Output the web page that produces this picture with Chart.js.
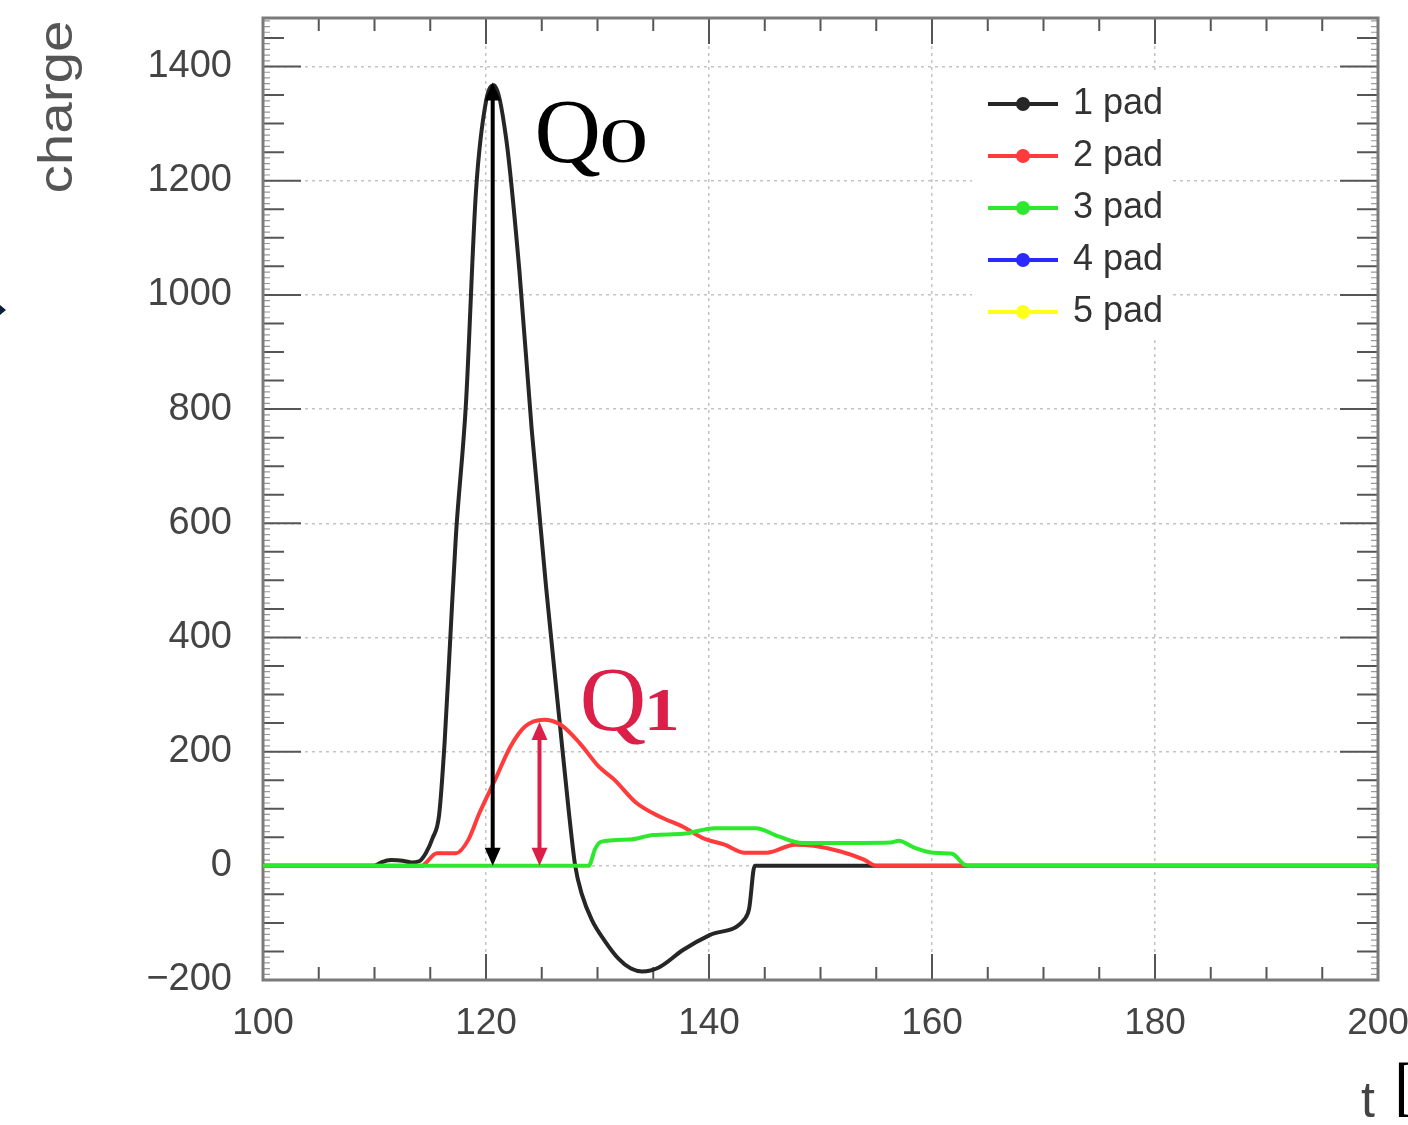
<!DOCTYPE html>
<html>
<head>
<meta charset="utf-8">
<script src="https://cdn.jsdelivr.net/npm/chart.js@4.4.1/dist/chart.umd.min.js"></script>
<style>
  html, body { margin: 0; padding: 0; background: #fff; }
  #wrap { width: 1408px; height: 1125px; position: relative; }
</style>
</head>
<body>
<div id="wrap"><canvas id="chart"></canvas></div>
<script>
// time axis ticks
const xTickValues = [100, 120, 140, 160, 180, 200];
const xTickLabels = ['100', '120', '140', '160', '180', '200'];
const yTickValues = [-200, 0, 200, 400, 600, 800, 1000, 1200, 1400];
const yTickLabels = ['\u2212200', '0', '200', '400', '600', '800', '1000', '1200', '1400'];

const seriesNames = ['1 pad', '2 pad', '3 pad', '4 pad', '5 pad'];
const seriesColors = ['#262626', '#ff3b3b', '#2ee82e', '#2a2aff', '#ffff1a'];

// 1 pad
const t1 = [100, 110, 110.6, 111.5, 112.5, 113.3, 114, 114.6, 115.2, 115.8, 116.3, 116.8, 117.3, 118.2, 119.1, 120.0, 120.7,
  121.8, 123.0, 124.1, 125.4, 126.6, 127.4, 128.0, 128.6, 129.5, 130.6, 131.9, 133.0, 134.0, 135.5, 137.7, 140.1,
  143.2, 143.6, 144.1, 155, 200];
const q1 = [0, 0, 6, 10, 9, 6, 8, 22, 48, 90, 220, 400, 578, 809, 1181, 1339, 1367,
  1275, 1041, 764, 486, 253, 100, 0, -50, -95, -130, -163, -180, -185, -178, -147, -121,
  -93, -75, 0, 0, 0];

// 2 pad
const t2 = [100, 114.3, 114.6, 115.6, 117.3, 118.4, 119.4, 120.8, 122.2, 123.5, 125.2, 126.7, 128.4, 130.1, 131.5, 133.5,
  135.6, 137.7, 139.4, 141.4, 143.2, 145.2, 147.7, 149.4, 151.8, 153.9, 155, 200];
const q2 = [0, 0, 5, 22, 22, 45, 92, 150, 209, 244, 256, 247, 215, 174, 151, 110,
  86, 68, 49, 37, 23, 23, 37, 35, 25, 11, 0, 0];

// 3 pad
const t3 = [100, 129.2, 129.8, 130.3, 132.9, 135, 137.7, 140.5, 144.2, 146.3, 148.4, 150.1, 156.3, 157, 158.4, 160.1,
  161.8, 162.9, 163.3, 200];
const q3 = [0, 0, 30, 42, 46, 54, 56, 66, 66, 51, 40, 40, 41, 44, 32, 23,
  21, 2, 0, 0];

// 4 pad, 5 pad: nothing drawn
const t4 = [];
const q4 = [];
const t5 = [];
const q5 = [];

// Q0 / Q1 markers (t, charge)
const q0Arrow = { t: 120.6, from: 0, to: 1372 };
const q1Arrow = { t: 124.8, from: 0, to: 252 };

const pts = (ts, qs) => ts.map((t, i) => ({ x: t, y: qs[i] }));

const frame = {
  id: 'frame',
  beforeDatasetsDraw(chart) {
    const { ctx, chartArea: a, scales: { x, y } } = chart;
    ctx.save();
    ctx.strokeStyle = '#555';
    ctx.lineWidth = 2;
    ctx.beginPath();
    for (let v = 100; v <= 200; v += 5) {
      const px = x.getPixelForValue(v);
      const len = v % 20 === 0 ? 26 : 13;
      ctx.moveTo(px, a.bottom); ctx.lineTo(px, a.bottom - len);
      ctx.moveTo(px, a.top); ctx.lineTo(px, a.top + len);
    }
    for (let v = -200; v <= 1480; v += 50) {
      const py = y.getPixelForValue(v);
      const len = v % 200 === 0 ? 38 : 21;
      ctx.moveTo(a.left, py); ctx.lineTo(a.left + len, py);
      ctx.moveTo(a.right, py); ctx.lineTo(a.right - len, py);
    }
    ctx.stroke();
    ctx.strokeStyle = '#999';
    ctx.lineWidth = 1.2;
    ctx.beginPath();
    for (let v = -200; v <= 1480; v += 10) {
      if (v % 50 === 0) continue;
      const py = y.getPixelForValue(v);
      ctx.moveTo(a.left, py); ctx.lineTo(a.left + 7, py);
      ctx.moveTo(a.right, py); ctx.lineTo(a.right - 7, py);
    }
    ctx.stroke();
    ctx.strokeStyle = '#7a7a7a';
    ctx.lineWidth = 3;
    ctx.strokeRect(a.left, a.top, a.width, a.height);
    ctx.restore();
  }
};

function arrow(ctx, x, y0, y1, color) {
  const head = 18, half = 8;
  ctx.strokeStyle = color;
  ctx.fillStyle = color;
  ctx.lineWidth = 4;
  ctx.beginPath();
  ctx.moveTo(x, y0 - head + 2);
  ctx.lineTo(x, y1 + head - 2);
  ctx.stroke();
  ctx.beginPath();
  ctx.moveTo(x, y0); ctx.lineTo(x - half, y0 - head); ctx.lineTo(x + half, y0 - head); ctx.closePath();
  ctx.fill();
  ctx.beginPath();
  ctx.moveTo(x, y1); ctx.lineTo(x - half, y1 + head); ctx.lineTo(x + half, y1 + head); ctx.closePath();
  ctx.fill();
}

function qLabel(ctx, x, y, sub, color) {
  ctx.fillStyle = color;
  ctx.textBaseline = 'alphabetic';
  ctx.textAlign = 'left';
  ctx.font = '92px "Liberation Serif"';
  ctx.fillText('Q', x, y);
  const w = ctx.measureText('Q').width;
  ctx.save();
  ctx.translate(x + w - 2, y);
  ctx.scale(sub === '0' ? 1.55 : 1.15, 1);
  ctx.font = sub === '0' ? '64px "Liberation Serif"' : '600 62px "Liberation Serif"';
  ctx.fillText(sub, 0, 0);
  ctx.restore();
}

const extras = {
  id: 'extras',
  afterDatasetsDraw(chart) {
    const { ctx, scales: { x, y } } = chart;
    ctx.save();

    // legend box
    ctx.fillStyle = '#fff';
    ctx.fillRect(972, 72, 200, 264);
    seriesNames.forEach((name, i) => {
      const cy = 104 + 52 * i;
      ctx.strokeStyle = seriesColors[i];
      ctx.fillStyle = seriesColors[i];
      ctx.lineWidth = 4;
      ctx.beginPath(); ctx.moveTo(988, cy); ctx.lineTo(1058, cy); ctx.stroke();
      ctx.beginPath(); ctx.arc(1023, cy, 7, 0, Math.PI * 2); ctx.fill();
      ctx.fillStyle = '#333';
      ctx.font = '36px "Liberation Sans"';
      ctx.textBaseline = 'middle';
      ctx.textAlign = 'left';
      ctx.fillText(name, 1073, cy);
    });

    // arrows
    const ax0 = x.getPixelForValue(q0Arrow.t);
    arrow(ctx, ax0, y.getPixelForValue(q0Arrow.from), y.getPixelForValue(q0Arrow.to), '#000');
    const ax1 = x.getPixelForValue(q1Arrow.t);
    arrow(ctx, ax1, y.getPixelForValue(q1Arrow.from), y.getPixelForValue(q1Arrow.to), '#dc1f48');

    qLabel(ctx, x.getPixelForValue(124.35), y.getPixelForValue(1232), '0', '#000');
    qLabel(ctx, x.getPixelForValue(128.4), y.getPixelForValue(238), '1', '#dc1f48');

    // axis titles
    ctx.fillStyle = '#555';
    ctx.save();
    ctx.translate(72, 107);
    ctx.rotate(-Math.PI / 2);
    ctx.scale(1.18, 1);
    ctx.font = '48px "Liberation Sans"';
    ctx.textAlign = 'center';
    ctx.textBaseline = 'alphabetic';
    ctx.fillText('charge', 0, 0);
    ctx.restore();

    ctx.fillStyle = '#444';
    ctx.font = '50px "Liberation Sans"';
    ctx.textAlign = 'left';
    ctx.textBaseline = 'alphabetic';
    ctx.fillText('t', 1361, 1117);
    ctx.fillStyle = '#000';
    ctx.font = '66px "Liberation Serif"';
    ctx.fillText('[', 1394, 1108);

    // cropped pointer at the left edge
    ctx.fillStyle = '#0a1f3c';
    ctx.beginPath(); ctx.moveTo(0, 305); ctx.lineTo(6, 310); ctx.lineTo(0, 315); ctx.closePath(); ctx.fill();

    ctx.restore();
  }
};

const lineDs = (i, data, order) => ({
  label: seriesNames[i],
  data,
  borderColor: seriesColors[i],
  backgroundColor: seriesColors[i],
  borderWidth: 4,
  pointRadius: 0,
  cubicInterpolationMode: 'monotone',
  fill: false,
  order
});

new Chart(document.getElementById('chart'), {
  type: 'line',
  data: {
    datasets: [
      lineDs(0, pts(t1, q1), 4),
      lineDs(1, pts(t2, q2), 3),
      lineDs(2, pts(t3, q3), 0),
      lineDs(3, pts(t4, q4), 1),
      lineDs(4, pts(t5, q5), 2)
    ]
  },
  options: {
    responsive: true,
    maintainAspectRatio: false,
    animation: false,
    layout: { padding: { top: 18, right: 30, left: 0, bottom: 0 } },
    plugins: { legend: { display: false }, tooltip: { enabled: false } },
    scales: {
      x: {
        type: 'linear',
        min: 100,
        max: 200,
        afterBuildTicks: axis => { axis.ticks = xTickValues.map(v => ({ value: v })); },
        afterFit: scale => {
          scale.height = 145;
          scale.paddingLeft = 0; scale.paddingRight = 0;
          scale.paddingTop = 0; scale.paddingBottom = 0;
        },
        ticks: {
          callback: (v, i) => xTickLabels[i],
          font: { family: 'Liberation Sans', size: 37 },
          color: '#444',
          padding: 22,
          maxRotation: 0
        },
        grid: {
          drawTicks: false,
          lineWidth: 1.5,
          color: c => (c.tick && (c.tick.value === 100 || c.tick.value === 200)) ? 'rgba(0,0,0,0)' : '#c4c4c4'
        },
        border: { display: false, dash: [3, 4] }
      },
      y: {
        type: 'linear',
        min: -200,
        max: 1485,
        afterBuildTicks: axis => { axis.ticks = yTickValues.map(v => ({ value: v })); },
        afterFit: scale => {
          scale.width = 263;
          scale.paddingLeft = 0; scale.paddingRight = 0;
          scale.paddingTop = 0; scale.paddingBottom = 0;
        },
        ticks: {
          callback: (v, i) => yTickLabels[i],
          font: { family: 'Liberation Sans', size: 38 },
          color: '#444',
          padding: 31
        },
        grid: {
          drawTicks: false,
          lineWidth: 1.5,
          color: c => (c.tick && c.tick.value === -200) ? 'rgba(0,0,0,0)' : '#c4c4c4'
        },
        border: { display: false, dash: [3, 4] }
      }
    }
  },
  plugins: [frame, extras]
});
</script>
</body>
</html>
